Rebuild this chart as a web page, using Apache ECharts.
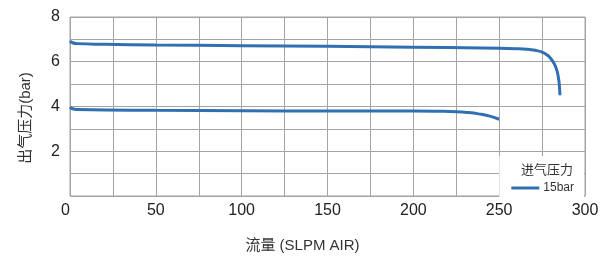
<!DOCTYPE html>
<html>
<head>
<meta charset="utf-8">
<script src="https://cdn.jsdelivr.net/npm/echarts@6/dist/echarts.min.js"></script>
<style>
  html, body { margin: 0; padding: 0; background: #fff; }
  #chart { width: 604px; height: 258px; }
</style>
</head>
<body>
<div id="chart"></div>
<script>
// outlet pressure vs flow, 15bar inlet
var upperCurve = [
  [0, 6.93], [1.5, 6.85], [4, 6.81], [20, 6.78], [50, 6.75], [100, 6.72],
  [150, 6.69], [200, 6.65], [240, 6.61], [260, 6.58], [266, 6.56],
  [271, 6.51], [275, 6.43], [278, 6.30], [280, 6.15], [282, 5.92],
  [283.5, 5.65], [284.5, 5.30], [285.1, 4.90], [285.4, 4.50]
];
var lowerCurve = [
  [0, 3.97], [1.5, 3.90], [4, 3.87], [50, 3.83], [100, 3.81], [150, 3.80],
  [200, 3.80], [215, 3.79], [225, 3.77], [232, 3.73], [238, 3.67],
  [244, 3.58], [250, 3.43]
];
var xLabels = [0, 50, 100, 150, 200, 250, 300];
var yLabels = [2, 4, 6, 8];

var font = '"Liberation Sans", "Noto Sans CJK SC", sans-serif';
var lineColor = '#3070b2';
var gridColor = '#a4a4a4';

var myChart = echarts.init(document.getElementById('chart'));

var option = {
  animation: false,
  grid: {
    left: 70, right: 19, top: 17, bottom: 55,
    show: true, borderColor: gridColor, borderWidth: 1
  },
  title: {
    text: '进气压力',
    right: 26, bottom: 76,
    z: 10,
    textStyle: { fontFamily: font, fontSize: 13, fontWeight: 'normal', color: '#333' }
  },
  legend: {
    data: ['15bar'],
    right: 20, bottom: 56,
    itemWidth: 28, itemHeight: 3, itemGap: 4,
    backgroundColor: '#fff',
    padding: [26, 10, 8, 12],
    icon: 'rect',
    textStyle: { fontFamily: font, fontSize: 12, color: '#333', padding: [0, 0, 0, -1] }
  },
  xAxis: {
    type: 'value',
    min: 0, max: 300, interval: 25,
    name: '流量 (SLPM AIR)',
    nameLocation: 'middle',
    nameGap: 42,
    nameTextStyle: { fontFamily: font, fontSize: 15, color: '#333', padding: [0, 50, 0, 0] },
    axisLine: { show: false },
    axisTick: { show: false },
    axisLabel: {
      margin: 7,
      alignMinLabel: 'right',
      fontFamily: font, fontSize: 16, color: '#222',
      formatter: function (v) { return xLabels.indexOf(v) >= 0 ? String(v) : ''; }
    },
    splitLine: { show: true, lineStyle: { color: gridColor, width: 1 } }
  },
  yAxis: {
    type: 'value',
    min: 0, max: 8, interval: 1,
    name: '出气压力(bar)',
    nameLocation: 'middle',
    nameGap: 37,
    nameTextStyle: { fontFamily: font, fontSize: 15, color: '#333', padding: [0, 23, 0, 0] },
    axisLine: { show: false },
    axisTick: { show: false },
    axisLabel: {
      margin: 10,
      fontFamily: font, fontSize: 16, color: '#222',
      formatter: function (v) { return yLabels.indexOf(v) >= 0 ? String(v) : ''; }
    },
    splitLine: { show: true, lineStyle: { color: gridColor, width: 1 } }
  },
  series: [
    {
      name: '15bar',
      type: 'line',
      data: upperCurve,
      smooth: 0.5,
      showSymbol: false,
      lineStyle: { color: lineColor, width: 3 },
      itemStyle: { color: lineColor }
    },
    {
      name: '15bar',
      type: 'line',
      data: lowerCurve,
      smooth: 0.5,
      showSymbol: false,
      lineStyle: { color: lineColor, width: 3 },
      itemStyle: { color: lineColor }
    }
  ]
};

option && myChart.setOption(option);
</script>
</body>
</html>
